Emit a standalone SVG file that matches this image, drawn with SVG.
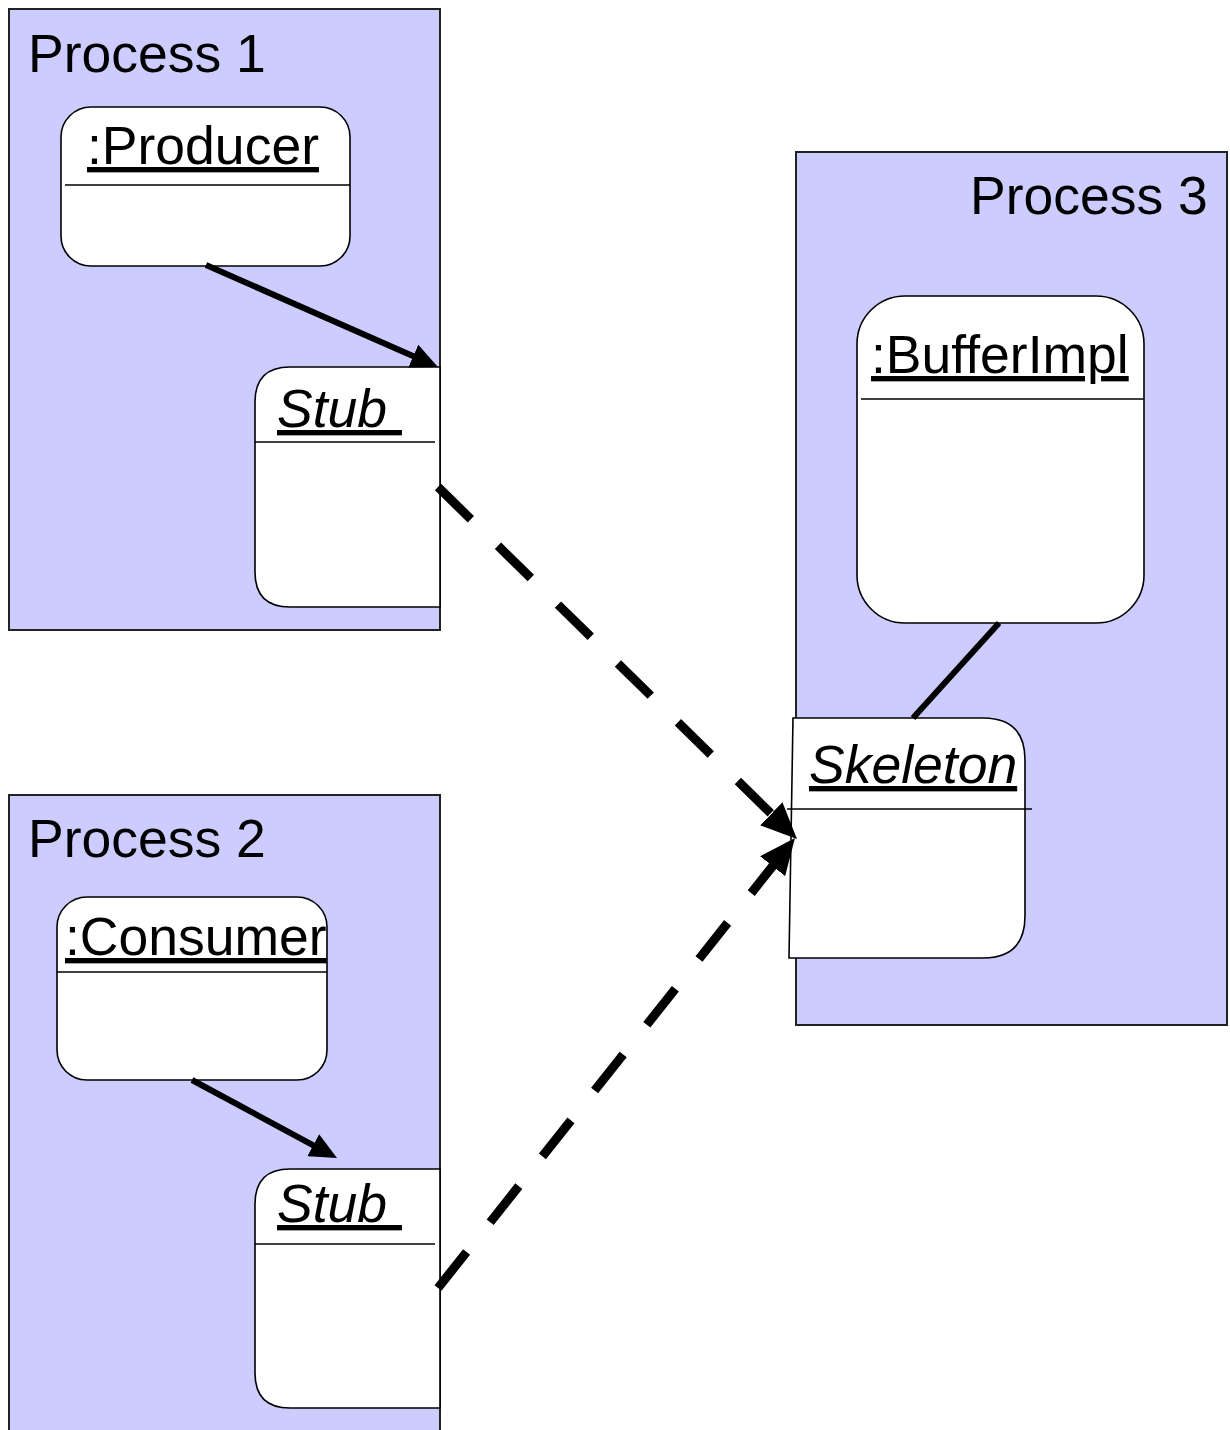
<svg xmlns="http://www.w3.org/2000/svg" width="1230" height="1430" viewBox="0 0 1230 1430">
  <style>
    .proc { fill: #CCCCFF; stroke: #222; stroke-width: 2; }
    .node { fill: #FFFFFF; stroke: #000; stroke-width: 1.6; }
    .div { stroke: #000; stroke-width: 1.6; fill: none; }
    .title { font-family: "Liberation Sans", Arial, sans-serif; font-size: 53.5px; fill: #000; }
    .label { font-family: "Liberation Sans", Arial, sans-serif; font-size: 53.5px; fill: #000; text-decoration: underline; text-decoration-thickness: 2.5px; }
    .ital { font-style: italic; }
    .solid { stroke: #000; stroke-width: 6; fill: none; }
    .dashed { stroke: #000; stroke-width: 9; fill: none; stroke-dasharray: 46 38; }
  </style>
  <defs>
    <marker id="arrowSolid" markerUnits="userSpaceOnUse" viewBox="0 0 27 25" markerWidth="27" markerHeight="25" refX="17" refY="12.5" orient="auto">
      <path d="M0,0 L27,12.5 L0,25 z" fill="#000"/>
    </marker>
    <marker id="arrowDashed" markerUnits="userSpaceOnUse" viewBox="0 0 36 32" markerWidth="36" markerHeight="32" refX="24" refY="16" orient="auto">
      <path d="M0,0 L36,16 L0,32 z" fill="#000"/>
    </marker>
  </defs>

  <g id="process1">
    <rect class="proc" x="9" y="9" width="431" height="621"/>
    <text class="title" x="28" y="72">Process 1</text>
  </g>
  <g id="process2">
    <rect class="proc" x="9" y="795" width="431" height="700"/>
    <text class="title" x="28" y="857">Process 2</text>
  </g>
  <g id="process3">
    <rect class="proc" x="796" y="152" width="431" height="873"/>
    <text class="title" x="970" y="214">Process 3</text>
  </g>

  <g id="producer">
    <rect class="node" x="61" y="107" width="289" height="159" rx="30" ry="30"/>
    <line class="div" x1="65" y1="185" x2="350" y2="185"/>
    <text class="label" x="87" y="164">:Producer</text>
  </g>

  <g id="stub1">
    <path class="node" d="M440,367 L290,367 Q255,367 255,402 L255,572 Q255,607 290,607 L440,607 z"/>
    <line class="div" x1="255" y1="442" x2="435" y2="442"/>
    <text class="label ital" x="277" y="427" xml:space="preserve">Stub </text>
  </g>

  <g id="bufferimpl">
    <rect class="node" x="857" y="296" width="287" height="327" rx="48" ry="48"/>
    <line class="div" x1="861" y1="399" x2="1144" y2="399"/>
    <text class="label" x="871" y="373">:BufferImpl</text>
  </g>

  <g id="skeleton">
    <path class="node" d="M793,718 L983,718 Q1025,718 1025,760 L1025,916 Q1025,958 983,958 L789,958 z"/>
    <line class="div" x1="787" y1="809" x2="1032" y2="809"/>
    <text class="label ital" x="809" y="783">Skeleton</text>
  </g>

  <g id="consumer">
    <rect class="node" x="57" y="897" width="270" height="183" rx="30" ry="30"/>
    <line class="div" x1="57" y1="972" x2="327" y2="972"/>
    <text class="label" x="65" y="955">:Consumer</text>
  </g>

  <g id="stub2">
    <path class="node" d="M440,1169 L290,1169 Q255,1169 255,1204 L255,1373 Q255,1408 290,1408 L440,1408 z"/>
    <line class="div" x1="255" y1="1244" x2="435" y2="1244"/>
    <text class="label ital" x="277" y="1222" xml:space="preserve">Stub </text>
  </g>

  <g id="connectors">
    <line class="solid" x1="206" y1="265" x2="428.8" y2="363" marker-end="url(#arrowSolid)"/>
    <line class="solid" x1="192" y1="1080" x2="328.2" y2="1153.3" marker-end="url(#arrowSolid)"/>
    <line class="solid" x1="999" y1="623" x2="913" y2="718"/>
    <line class="dashed" x1="438" y1="487" x2="788.4" y2="830.6" marker-end="url(#arrowDashed)"/>
    <line class="dashed" x1="438" y1="1288" x2="787.5" y2="847.4" marker-end="url(#arrowDashed)"/>
  </g>
</svg>
